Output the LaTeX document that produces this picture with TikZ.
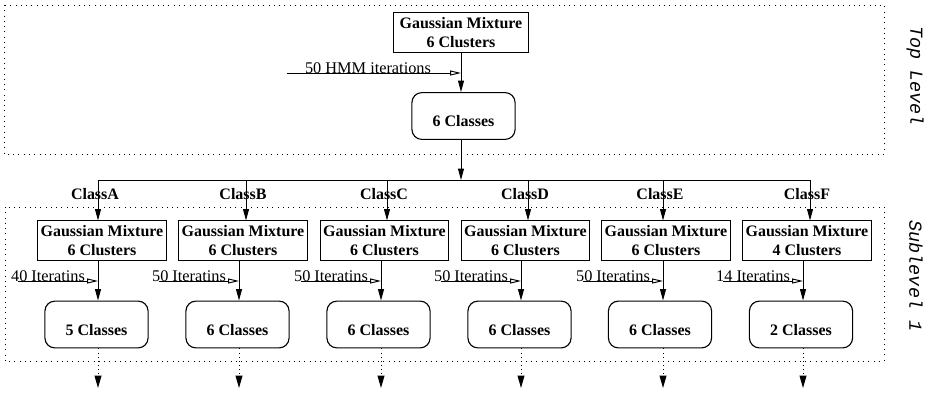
\documentclass[tikz,border=0pt]{standalone}
\usepackage{fontspec}
\setmainfont{Liberation Serif}
\setmonofont{Liberation Mono}
\usetikzlibrary{arrows.meta}
% One branch of the lower level: arrow in, mixture box, HMM step, result box.
% #1 class letter, #2 x of incoming arrow, #3 x of mixture box, #4 x of outgoing line,
% #5 x of result box, #6 clusters, #7 iterations, #8 classes
\newcommand{\classColumn}[8]{%%
  \coordinate (in#1) at (#2,\ybranch);
  \coordinate (end#1) at (#4,\yend);
  \coordinate (it#1) at (#4-80,\yiter);
  \node[gaussStyle] (gm#1) at (#3,\ygauss) {Gaussian Mixture\\#6 Clusters};
  \node[classStyle] (cl#1) at (#5,\yclass) {#8 Classes};
  \node[branchLabelStyle] (lbl#1) at (#2-3,\ylabel) {Class#1};
  \node[iterLabelStyle] (itl#1) at (#4-50,\yiter-4.5) {#7 Iteratins};
  \draw[arrowStyle] (in#1) -- (gm#1.north -| in#1);
  \draw[arrowStyle] (gm#1.south -| end#1) -- (cl#1.north -| end#1);
  \draw[iterStyle] (it#1) -- (it#1 -| end#1);
  \draw[dotArrowStyle] (cl#1.south -| end#1) -- (end#1);
}

\begin{document}
\begin{tikzpicture}[%%
  x=0.22mm,y=-0.22mm,%%
  font=\fontsize{10.2}{12.5}\selectfont,%%
  frameStyle/.style={line width=0.6pt,dash pattern=on 0.6pt off 2.7pt},%%
  gaussStyle/.style={draw,line width=0.6pt,align=center,inner sep=0pt,%%
    minimum width=28.2mm,minimum height=8.6mm,font=\bfseries},%%
  classStyle/.style={draw,line width=0.7pt,rounded corners=2.2mm,inner sep=0pt,%%
    minimum width=22.7mm,text height=7.5mm,text depth=2.8mm,font=\bfseries},%%
  branchLabelStyle/.style={inner sep=0pt,font=\bfseries},%%
  iterLabelStyle/.style={inner sep=0pt},%%
  sideLabelStyle/.style={inner sep=0pt,rotate=-90,font=\fontsize{11.5}{13}\selectfont\ttfamily\itshape},%%
  arrowStyle/.style={line width=0.6pt,-{Triangle[length=2.5mm,width=1.3mm]}},%%
  iterStyle/.style={line width=0.6pt,-{Triangle[open,length=2.4mm,width=1.1mm]}},%%
  dotArrowStyle/.style={line width=0.6pt,dash pattern=on 0.6pt off 2pt,%%
    -{Triangle[length=2.7mm,width=1.5mm]}}%%
]
\useasboundingbox (0,0) rectangle (928,392);
%%
%% Heights of the rows.
\pgfmathsetmacro{\ybranch}{180}
\pgfmathsetmacro{\ylabel}{194}
\pgfmathsetmacro{\ygauss}{240.5}
\pgfmathsetmacro{\yiter}{281}
\pgfmathsetmacro{\yclass}{324.5}
\pgfmathsetmacro{\yend}{388}
%%
%% The two levels.
\draw[frameStyle] (4,5) rectangle (884,154);
\draw[frameStyle] (5,207) rectangle (884,361);
\node[sideLabelStyle] (topLevel) at (915,76) {Top Level};
\node[sideLabelStyle] (subLevel) at (916,276) {Sublevel 1};
%%
%% Top level.
\node[gaussStyle,minimum width=29.5mm] (gmTop) at (461,32.5) {Gaussian Mixture\\6 Clusters};
\node[classStyle] (clTop) at (463.5,116) {6 Classes};
\coordinate (itTop) at (287,73);
\coordinate (split) at (461,\ybranch);
\node[iterLabelStyle] (itlTop) at (368,68) {50 HMM iterations};
\draw[arrowStyle] (gmTop.south -| split) -- (clTop.north -| split);
\draw[iterStyle] (itTop) -- (itTop -| split);
\draw[arrowStyle] (clTop.south -| split) -- (split);
\draw[line width=0.6pt] (98,\ybranch) -- (810,\ybranch);
%%
%% Sublevel 1, one branch per class.
\classColumn{A}{98}{102}{98}{96.5}{6}{40}{5}
\classColumn{B}{246}{243}{239}{237.5}{6}{50}{6}
\classColumn{C}{387}{384.5}{381}{378.5}{6}{50}{6}
\classColumn{D}{528}{525.5}{521}{519.5}{6}{50}{6}
\classColumn{E}{663}{666}{663}{660}{6}{50}{6}
\classColumn{F}{810}{807}{803}{801}{4}{14}{2}
\end{tikzpicture}
\end{document}
